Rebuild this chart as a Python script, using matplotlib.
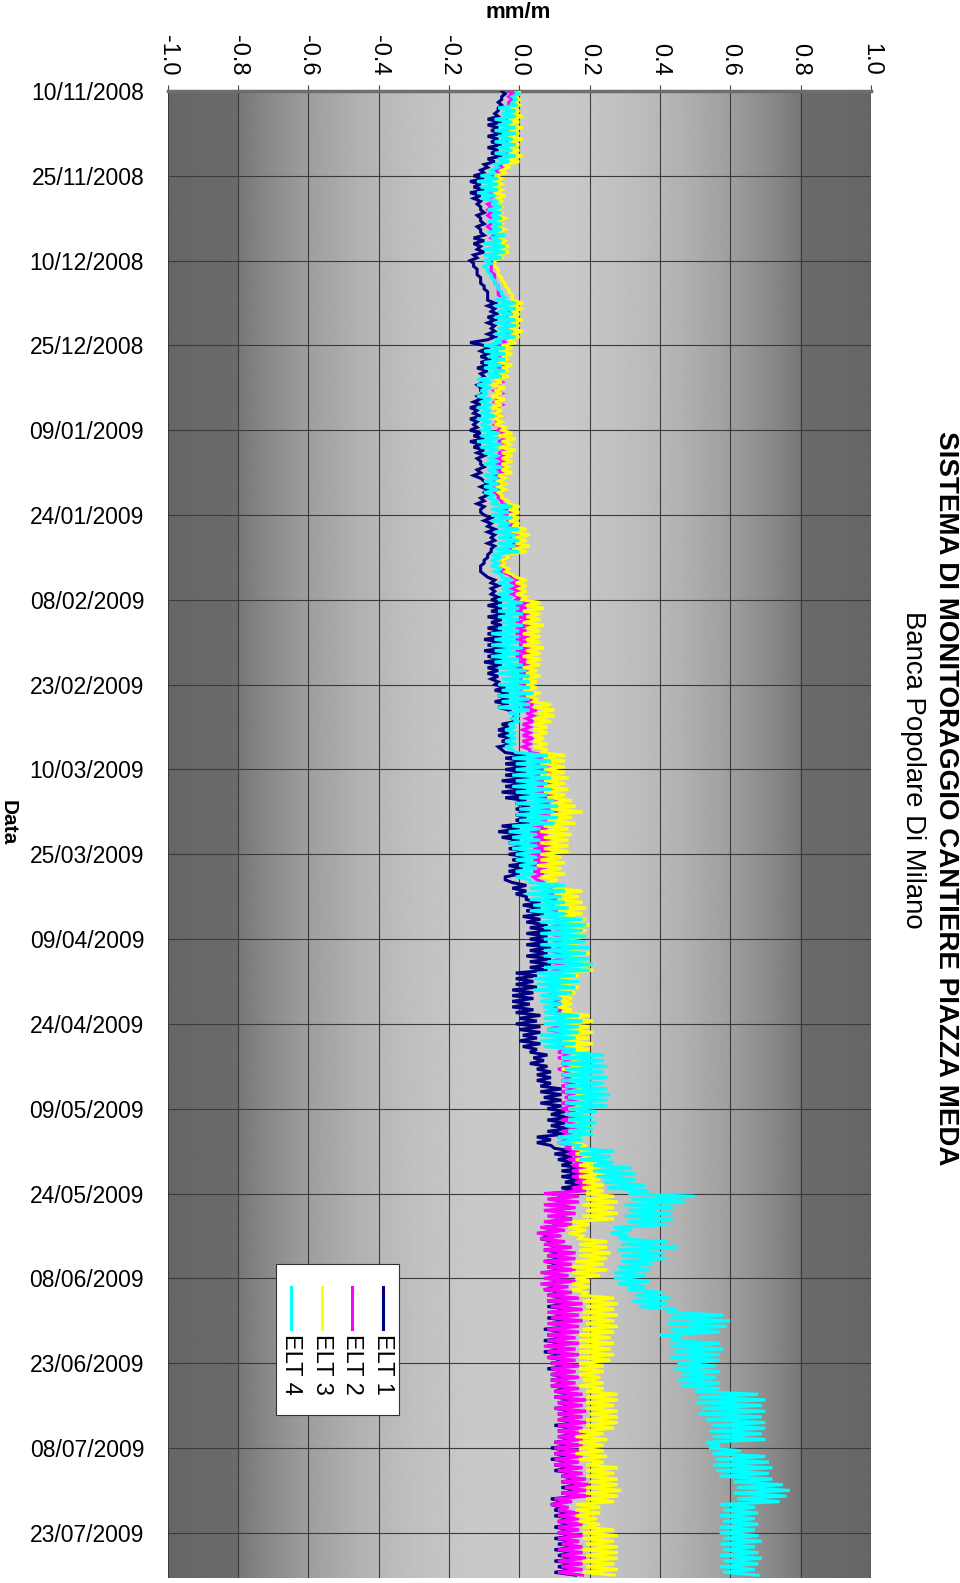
import matplotlib
matplotlib.use("Agg")
import matplotlib.pyplot as plt
from matplotlib.lines import Line2D
from matplotlib.patches import Rectangle
from matplotlib.ticker import FormatStrFormatter
import numpy as np
import pandas as pd

plt.rcParams['font.family'] = ['Liberation Sans', 'DejaVu Sans']
plt.rcParams['axes.unicode_minus'] = False

# readings every 12 hours from 10/11/2008, in hundredths of mm/m
start_date = "2008-11-10"

elt1 = [
    -5,-4,-5,-5,-6,-5,-6,-6,-7,-6,-9,-5,-9,-6,-8,-5,-9,-6,-8,-5,-9,-6,-8,-5,-9,-7,-10,-9,-11,-10,
    -13,-10,-14,-11,-13,-10,-14,-11,-13,-11,-12,-11,-11,-10,-12,-11,-11,-10,-12,-11,-11,-10,-13,-10,-13,-11,-12,-10,-13,-12,
    -14,-13,-13,-12,-12,-12,-11,-11,-11,-10,-10,-9,-9,-9,-9,-7,-9,-7,-8,-6,-9,-7,-9,-7,-8,-7,-9,-7,-9,-14,
    -10,-9,-11,-9,-11,-8,-11,-9,-12,-9,-11,-10,-11,-10,-12,-11,-11,-10,-12,-11,-13,-11,-14,-12,-13,-11,-14,-12,-13,-12,
    -14,-11,-13,-10,-14,-11,-13,-10,-12,-10,-12,-11,-11,-10,-12,-11,-13,-11,-10,-9,-11,-9,-10,-9,-11,-10,-12,-10,-11,-11,
    -10,-8,-10,-8,-9,-7,-9,-7,-8,-7,-9,-7,-8,-8,-9,-9,-10,-10,-11,-11,-11,-10,-9,-7,-8,-6,-8,-7,-8,-6,
    -8,-5,-9,-5,-8,-4,-9,-5,-8,-5,-9,-5,-9,-5,-10,-5,-9,-4,-10,-5,-9,-5,-10,-5,-9,-6,-9,-6,-8,-6,
    -7,-4,-7,-3,-6,-3,-7,-3,-6,-3,-2,-1,-2,-1,-5,-3,-6,-3,-6,-2,-5,-2,-6,-5,-4,2,-4,2,-4,2,
    -4,2,-4,3,-5,2,-4,2,-5,3,-4,2,-1,3,-1,3,-1,2,-1,3,-5,0,-6,1,-5,0,-3,3,-3,3,
    -3,3,-2,3,-3,1,-3,0,-4,-4,-2,2,-2,2,-1,2,2,6,1,6,2,7,1,6,2,8,3,9,2,8,
    3,8,2,9,3,8,2,9,3,9,3,8,-1,5,-1,4,-1,5,-2,4,-2,4,-2,3,-2,4,-1,6,0,5,
    -1,6,0,6,1,5,0,6,1,5,3,8,4,7,3,8,5,9,5,9,5,9,6,12,6,12,7,12,6,12,
    8,13,9,14,8,13,9,14,8,13,5,9,5,9,10,15,10,15,11,15,12,18,12,18,12,17,13,18,12,17,
    9,15,9,14,10,15,9,14,9,15,8,13,7,12,6,9,6,10,8,13,7,13,8,13,7,12,8,13,7,12,
    8,14,7,12,7,13,8,15,8,14,8,15,9,15,8,14,9,15,7,14,8,14,7,13,8,14,7,13,8,14,
    9,14,8,15,9,14,9,15,9,14,10,16,10,16,11,16,10,16,11,16,11,17,10,16,11,17,11,16,10,16,
    9,15,10,15,9,16,10,15,10,16,12,17,12,18,12,17,12,18,9,13,9,12,10,15,10,15,11,15,10,15,
    11,16,10,16,11,17,10,16,11,17,10,16,11,16,10,16,
]

elt2 = [
    -3,-2,-3,-2,-3,-3,-4,-3,-4,-3,-4,-3,-4,-2,-4,-2,-4,-2,-4,-3,-4,-2,-4,-3,-5,-3,-6,-5,-7,-6,
    -9,-7,-9,-7,-9,-7,-10,-7,-9,-7,-9,-8,-9,-8,-9,-8,-8,-8,-9,-8,-8,-7,-8,-6,-8,-6,-8,-6,-8,-7,
    -9,-8,-8,-8,-8,-7,-7,-7,-7,-6,-6,-6,-6,-5,-5,-3,-5,-2,-4,-2,-5,-2,-5,-3,-4,-2,-5,-3,-5,-4,
    -6,-4,-6,-4,-6,-3,-6,-4,-6,-4,-6,-4,-7,-5,-7,-5,-7,-5,-7,-6,-7,-5,-7,-6,-7,-5,-7,-6,-7,-5,
    -6,-4,-6,-3,-6,-4,-6,-3,-6,-4,-6,-4,-6,-4,-6,-5,-7,-5,-7,-6,-7,-5,-7,-6,-6,-5,-5,-3,-4,-2,
    -4,-2,-3,-1,-3,0,-2,1,-3,0,-2,1,-3,0,-4,-3,-5,-4,-5,-4,-5,-3,-2,0,-2,0,-2,0,-2,0,
    -1,3,-1,2,-1,3,0,3,-1,3,-1,2,-1,3,-1,2,0,3,-1,3,-1,2,0,3,-1,3,0,3,0,3,
    0,4,-1,4,0,5,0,4,1,5,2,4,2,4,1,3,1,3,1,4,1,3,1,3,3,8,3,9,4,9,
    4,10,4,9,4,10,5,10,4,10,5,11,5,10,5,11,4,10,5,10,3,8,3,8,4,9,3,9,4,9,
    3,9,4,8,3,8,4,7,4,5,7,11,7,11,8,11,8,13,8,14,9,14,8,14,9,14,8,14,9,14,
    8,14,9,14,8,13,9,14,8,13,9,12,8,13,9,12,8,11,8,11,8,12,9,12,8,12,10,16,10,17,
    9,12,8,12,10,14,10,15,10,14,11,15,11,15,12,15,11,15,12,15,12,16,12,17,12,16,13,17,12,16,
    12,16,13,17,12,16,13,17,12,16,11,15,11,15,13,17,14,18,14,18,15,19,15,20,15,19,16,20,15,19,
    7,17,8,17,7,16,7,16,8,15,7,15,6,13,5,12,6,13,7,15,7,16,8,16,7,15,8,16,6,14,
    7,16,6,14,7,15,8,17,8,18,9,18,8,17,9,18,8,17,8,17,8,16,8,17,7,16,8,17,8,16,
    9,17,9,16,9,17,9,16,9,17,10,18,10,19,11,18,10,19,11,18,11,19,11,18,11,19,11,18,10,18,
    10,17,10,18,10,17,10,18,11,18,12,19,12,20,13,19,12,20,10,15,9,14,11,17,11,17,11,18,11,17,
    11,18,11,17,12,18,11,18,12,19,11,18,12,18,11,18,
]

elt3 = [
    0,0,-1,0,-1,0,-3,0,-2,1,-3,0,-4,1,-3,0,-4,1,-3,0,-4,0,-3,1,-4,0,-4,-3,-5,-4,
    -7,-5,-7,-5,-7,-5,-7,-4,-6,-5,-6,-5,-6,-5,-6,-4,-6,-5,-6,-4,-6,-5,-6,-4,-5,-3,-6,-3,-6,-5,
    -7,-7,-7,-6,-6,-6,-5,-5,-4,-4,-3,-3,-2,-2,-2,1,-3,1,-2,0,-3,1,-2,0,-3,1,-2,0,-3,-1,
    -5,-2,-6,-2,-5,-3,-6,-2,-5,-3,-6,-3,-7,-5,-8,-4,-7,-5,-8,-4,-7,-5,-8,-5,-7,-5,-7,-5,-7,-4,
    -5,-2,-6,-1,-5,-2,-6,-1,-5,-2,-5,-2,-5,-3,-5,-2,-6,-4,-6,-4,-6,-4,-6,-5,-5,-3,-3,0,-3,0,
    -3,0,-3,0,-2,2,-2,3,-2,2,-1,3,-2,2,-4,-3,-5,-4,-5,-3,-4,-2,-1,2,-1,2,0,2,-1,2,
    1,6,2,7,1,6,2,6,1,7,2,6,1,6,2,6,1,7,2,6,1,6,2,6,1,5,2,6,1,5,
    2,5,1,6,2,5,4,9,4,10,5,10,4,9,4,8,4,8,4,7,4,8,4,8,6,13,7,13,6,13,
    7,13,6,14,7,13,7,14,7,13,8,15,9,16,9,18,9,15,8,16,7,14,6,15,7,14,6,14,7,14,
    6,12,6,13,5,12,6,13,6,11,8,9,10,18,10,17,11,18,10,19,11,18,11,19,11,20,12,19,11,19,
    11,19,12,19,11,20,12,19,13,21,13,21,11,17,11,17,11,17,11,16,11,15,12,15,11,15,12,20,13,21,
    12,20,13,21,12,20,12,21,13,20,13,19,12,19,13,18,12,19,13,18,14,20,14,21,14,20,14,21,15,20,
    14,20,14,21,14,20,15,21,14,20,13,18,14,19,15,21,16,22,16,22,17,23,17,24,17,23,18,24,18,24,
    19,27,19,28,18,27,19,28,18,27,15,20,14,19,14,18,17,25,17,25,17,26,17,25,16,24,15,25,15,23,
    16,20,15,20,15,19,18,27,18,28,19,27,18,28,18,27,19,28,18,27,17,26,17,27,17,26,17,27,17,26,
    17,24,17,24,17,23,18,24,17,24,19,28,19,28,19,27,19,28,20,28,19,28,19,27,17,24,16,25,17,24,
    17,24,16,25,17,24,19,28,19,27,19,28,20,28,19,29,19,28,19,27,16,23,16,23,16,22,17,23,18,27,
    18,28,18,27,19,28,18,28,19,28,18,27,19,28,18,27,
]

elt4 = [
    -1,0,-2,-1,-2,-1,-6,-1,-5,-1,-7,-2,-6,-1,-7,-1,-6,-2,-7,-1,-6,-2,-7,-1,-6,-3,-7,-6,-8,-7,
    -11,-6,-12,-6,-11,-6,-12,-7,-11,-6,-8,-5,-9,-5,-8,-5,-9,-5,-8,-5,-9,-4,-8,-5,-10,-4,-10,-4,-10,-5,
    -10,-8,-10,-9,-9,-8,-8,-7,-7,-6,-6,-5,-5,-4,-7,-1,-7,-1,-6,-2,-7,-1,-7,-1,-6,-2,-7,-1,-7,-5,
    -10,-4,-10,-4,-9,-4,-10,-5,-10,-4,-9,-5,-12,-8,-12,-8,-11,-9,-12,-8,-11,-8,-12,-8,-11,-7,-12,-8,-11,-8,
    -11,-6,-11,-6,-12,-5,-11,-6,-10,-6,-9,-6,-10,-5,-9,-6,-10,-6,-10,-6,-10,-6,-10,-7,-9,-6,-8,-2,-8,-3,
    -8,-2,-8,-3,-6,0,-7,-1,-6,0,-6,-1,-7,0,-8,-5,-8,-6,-8,-5,-7,-5,-5,-2,-6,-2,-5,-2,-6,-2,
    -6,1,-6,0,-6,1,-6,0,-5,1,-6,0,-8,0,-7,0,-8,1,-7,0,-8,0,-7,1,-6,2,-6,3,-5,3,
    -6,3,-5,4,-6,3,-5,3,-6,3,-3,0,-2,0,-3,-1,-4,-1,-3,-1,-4,-1,-4,-2,-1,8,-2,9,-1,8,
    -1,8,-2,9,-1,8,-2,9,-1,8,0,10,-1,11,0,10,-1,11,0,10,-2,6,-3,5,-2,6,-3,5,-2,6,
    -1,5,-1,5,0,5,-1,4,-1,3,3,13,3,13,2,12,3,13,4,14,3,13,6,18,6,19,7,18,6,19,
    7,19,6,20,7,19,7,20,8,21,7,20,5,16,4,17,5,16,4,15,6,12,6,12,7,11,7,17,7,18,
    7,17,8,17,6,16,6,16,7,16,12,24,12,24,12,25,13,24,12,25,12,24,13,25,13,26,14,25,13,25,
    14,22,13,21,14,22,13,21,14,21,11,18,11,17,16,27,17,26,17,27,21,32,21,33,22,33,24,36,25,37,
    31,50,32,47,30,44,31,43,30,44,31,42,27,32,26,31,28,42,29,45,28,41,29,42,29,38,28,37,27,36,
    27,37,28,36,31,41,33,43,32,42,34,45,42,58,43,60,42,59,43,57,40,46,43,57,43,58,44,57,43,57,
    45,56,44,57,46,56,45,57,46,57,50,68,51,70,50,69,52,70,51,69,53,70,55,70,54,69,55,70,53,57,
    54,63,55,70,56,71,55,72,56,71,57,72,61,75,62,77,61,76,62,74,57,67,58,68,57,67,58,68,57,67,
    57,68,58,69,57,67,58,68,57,69,58,68,57,67,58,68,
]

series_names = ["ELT 1", "ELT 2", "ELT 3", "ELT 4"]
series_colors = ["#000080", "#ff00ff", "#ffff00", "#00ffff"]
date_ticks = ["10/11/2008", "25/11/2008", "10/12/2008", "25/12/2008", "09/01/2009",
              "24/01/2009", "08/02/2009", "23/02/2009", "10/03/2009", "25/03/2009",
              "09/04/2009", "24/04/2009", "09/05/2009", "24/05/2009", "08/06/2009",
              "23/06/2009", "08/07/2009", "23/07/2009"]
value_ticks = [-1.0, -0.8, -0.6, -0.4, -0.2, 0.0, 0.2, 0.4, 0.6, 0.8, 1.0]

W, H = 960, 1583


def fx(x):
    return x / W


def fy(y):
    return 1 - y / H


fig = plt.figure(figsize=(W / 100, H / 100), dpi=100)
ax = fig.add_axes([fx(167.8), fy(1578), (870.8 - 167.8) / W, (1578 - 91) / H])

# grey gradient background, dark at both ends
gv = np.linspace(-1, 1, 801)
stops_v = [0, 0.15, 0.3, 0.45, 0.6, 0.7, 0.799, 0.801, 1.0]
stops_g = [0.79, 0.785, 0.75, 0.70, 0.62, 0.55, 0.47, 0.42, 0.40]
grad = np.interp(np.abs(gv), stops_v, stops_g)
ax.imshow(grad[np.newaxis, :], cmap="gray", vmin=0, vmax=1, aspect="auto",
          extent=(0, 1, 0, 1), transform=ax.transAxes, zorder=-5,
          interpolation="bilinear")

all_series = [elt1, elt2, elt3, elt4]
n = min(len(s) for s in all_series)
times = pd.date_range(start_date, periods=n, freq="12h")
for vals, name, col in zip(all_series, series_names, series_colors):
    ax.plot(np.array(vals[:n]) / 100.0, times, color=col, lw=2.2, label=name,
            solid_joinstyle="miter", zorder=3)

t0 = pd.Timestamp(start_date)
ax.set_ylim(t0 + pd.Timedelta(days=263), t0)
ax.set_xlim(-1, 1)

tick_dates = pd.to_datetime(date_ticks, format="%d/%m/%Y")
ax.set_yticks(tick_dates)
ax.set_yticklabels(date_ticks)
ax.set_xticks(value_ticks)
ax.xaxis.set_major_formatter(FormatStrFormatter("%.1f"))
ax.xaxis.tick_top()
ax.tick_params(axis="x", labelrotation=-90, labelsize=17, length=4, width=0.8,
               color="#444444", pad=7)
ax.tick_params(axis="y", labelsize=16.5, length=0, pad=17)

ax.grid(True, color="#3a3a3a", lw=0.8)
ax.set_axisbelow(True)
for side in ["left", "right", "bottom"]:
    ax.spines[side].set_visible(False)
ax.spines["top"].set_color("#6e6e6e")
ax.spines["top"].set_linewidth(2.5)

fig.text(fx(518), fy(13), "mm/m", ha="center", va="center", fontsize=16, fontweight="bold")
fig.text(fx(8), fy(823), "Data", ha="center", va="center", fontsize=15,
         fontweight="bold", rotation=-90)
fig.text(fx(946), fy(798), "SISTEMA DI MONITORAGGIO CANTIERE PIAZZA MEDA",
         ha="center", va="center", fontsize=20, fontweight="bold", rotation=-90)
fig.text(fx(913), fy(770), "Banca Popolare Di Milano", ha="center", va="center",
         fontsize=19.8, rotation=-90)

# legend turned on its side like the rest of the page
box = Rectangle((fx(276), fy(1415)), (399 - 276) / W, (1415 - 1264) / H,
                transform=fig.transFigure, facecolor="white", edgecolor="#333333",
                lw=0.8, zorder=10)
fig.add_artist(box)
legend_x = [383, 352, 322, 291]
for name, col, xp in zip(series_names, series_colors, legend_x):
    fig.add_artist(Line2D([fx(xp), fx(xp)], [fy(1287), fy(1329)], color=col, lw=2.2,
                          transform=fig.transFigure, zorder=11))
    fig.text(fx(xp), fy(1334), name, ha="center", va="top", rotation=-90,
             fontsize=17, zorder=11)

fig.savefig("out.png", dpi=100)
